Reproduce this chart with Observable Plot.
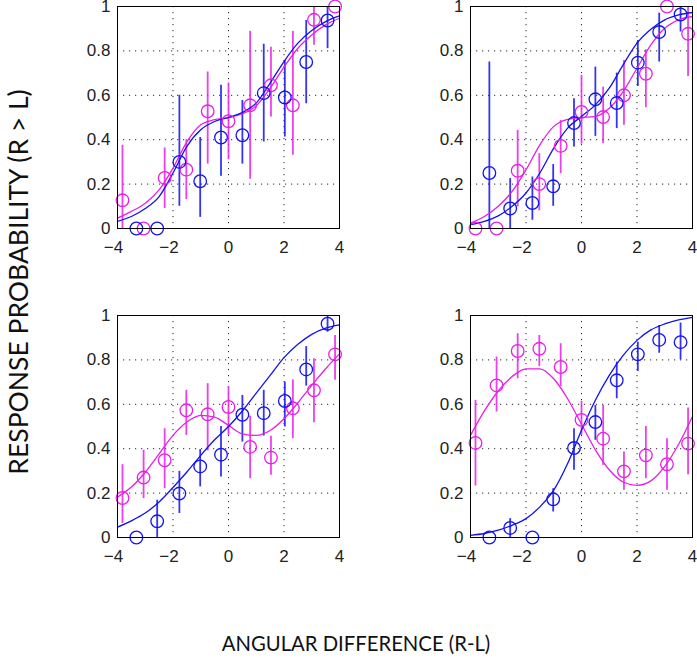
<!DOCTYPE html>
<html>
<head>
<meta charset="utf-8">
<script src="https://cdn.jsdelivr.net/npm/d3@7"></script>
<script src="https://cdn.jsdelivr.net/npm/@observablehq/plot@0.6"></script>
<style>
  html, body { margin: 0; padding: 0; background: #fff; overflow: hidden; }
  #root { position: relative; width: 697px; height: 658px; }
  .panel { position: absolute; }
  #ylab {
    position: absolute; left: 18px; top: 282px;
    transform: translate(-50%, -50%) rotate(-90deg);
    white-space: nowrap; font-family: Lato, "Open Sans", sans-serif; font-size: 26.5px; color: #111;
  }
  #xlab {
    position: absolute; left: 356px; top: 643px;
    transform: translate(-50%, -50%);
    white-space: nowrap; font-family: Lato, "Open Sans", sans-serif; font-size: 20.3px; color: #111;
  }
</style>
</head>
<body>
<div id="root">
  <div id="ylab">RESPONSE PROBABILITY (R &gt; L)</div>
  <div id="xlab">ANGULAR DIFFERENCE (R-L)</div>
</div>
<script>
// ---- axis ticks ----
const xTicks = [-4, -2, 0, 2, 4];
const yTicks = [0, 0.2, 0.4, 0.6, 0.8, 1];

// ---- stimulus positions (shared by all panels) ----
const blueX    = [-3.32, -2.57, -1.77, -1.02, -0.27, 0.50, 1.27, 2.03, 2.80, 3.57];
const magentaX = [-3.82, -3.06, -2.30, -1.52, -0.75, 0.00, 0.78, 1.53, 2.32, 3.08, 3.84];
const curveX   = [-4, -3.5, -3, -2.5, -2, -1.5, -1, -0.5, 0, 0.5, 1, 1.5, 2, 2.5, 3, 3.5, 4];

// ---- panel 1 (top left) ----
const p1BlueY  = [0, 0, 0.30, 0.213, 0.41, 0.42, 0.61, 0.59, 0.75, 0.937];
const p1BlueLo = [0, 0, 0.10, 0.05, 0.235, 0.29, 0.39, 0.412, 0.562, 0.81];
const p1BlueHi = [0, 0, 0.60, 0.41, 0.645, 0.577, 0.83, 0.757, 0.937, 1.0];
const p1MagY   = [0.127, 0, 0.228, 0.265, 0.528, 0.483, 0.555, 0.645, 0.555, 0.94, 1.0];
const p1MagLo  = [0, 0, 0.09, 0.13, 0.29, 0.31, 0.222, 0.502, 0.33, 0.825, 1.0];
const p1MagHi  = [0.375, 0, 0.363, 0.40, 0.705, 0.655, 0.888, 0.817, 0.888, 1.0, 1.0];
const p1BlueFit = [0.032, 0.054, 0.09, 0.144, 0.25, 0.37, 0.445, 0.482, 0.50, 0.523, 0.565, 0.655, 0.752, 0.835, 0.892, 0.932, 0.958];
const p1MagFit  = [0.047, 0.077, 0.114, 0.174, 0.272, 0.39, 0.467, 0.49, 0.50, 0.517, 0.553, 0.632, 0.727, 0.812, 0.872, 0.917, 0.947];

// ---- panel 2 (top right) ----
const p2BlueY  = [0.25, 0.09, 0.115, 0.19, 0.475, 0.582, 0.565, 0.747, 0.885, 0.964];
const p2BlueLo = [0, 0, 0.037, 0.10, 0.367, 0.415, 0.45, 0.64, 0.75, 0.885];
const p2BlueHi = [0.75, 0.225, 0.232, 0.288, 0.585, 0.727, 0.70, 0.847, 0.97, 1.0];
const p2MagY   = [0, 0, 0.26, 0.20, 0.372, 0.525, 0.502, 0.60, 0.697, 1.0, 0.877];
const p2MagLo  = [0, 0, 0.097, 0.08, 0.247, 0.38, 0.382, 0.465, 0.544, 1.0, 0.685];
const p2MagHi  = [0, 0, 0.442, 0.337, 0.487, 0.69, 0.637, 0.757, 0.805, 1.0, 1.0];
const p2BlueFit = [0.017, 0.032, 0.057, 0.10, 0.16, 0.25, 0.362, 0.452, 0.505, 0.557, 0.632, 0.737, 0.835, 0.898, 0.94, 0.962, 0.973];
const p2MagFit  = [0.024, 0.054, 0.10, 0.167, 0.264, 0.377, 0.46, 0.492, 0.50, 0.505, 0.542, 0.617, 0.722, 0.827, 0.902, 0.94, 0.955];

// ---- panel 3 (bottom left) ----
const p3BlueY  = [0, 0.073, 0.198, 0.32, 0.373, 0.553, 0.56, 0.615, 0.757, 0.963];
const p3BlueLo = [0, 0, 0.108, 0.228, 0.273, 0.43, 0.457, 0.498, 0.682, 0.925];
const p3BlueHi = [0, 0.168, 0.298, 0.396, 0.50, 0.64, 0.663, 0.70, 0.86, 1.0];
const p3MagY   = [0.178, 0.27, 0.348, 0.573, 0.555, 0.588, 0.408, 0.36, 0.582, 0.663, 0.825];
const p3MagLo  = [0.063, 0.175, 0.22, 0.46, 0.39, 0.46, 0.265, 0.28, 0.445, 0.517, 0.708];
const p3MagHi  = [0.328, 0.393, 0.49, 0.663, 0.693, 0.68, 0.546, 0.456, 0.71, 0.805, 0.91];
const p3BlueFit = [0.047, 0.075, 0.11, 0.16, 0.225, 0.295, 0.37, 0.44, 0.50, 0.57, 0.65, 0.73, 0.81, 0.87, 0.915, 0.943, 0.958];
const p3MagFit  = [0.182, 0.227, 0.294, 0.377, 0.46, 0.52, 0.55, 0.542, 0.505, 0.467, 0.46, 0.482, 0.535, 0.607, 0.685, 0.76, 0.827];

// ---- panel 4 (bottom right) ----
const p4BlueY  = [0, 0.043, 0, 0.172, 0.403, 0.52, 0.708, 0.825, 0.89, 0.88];
const p4BlueLo = [0, 0, 0, 0.115, 0.303, 0.438, 0.625, 0.748, 0.83, 0.80];
const p4BlueHi = [0, 0.085, 0, 0.22, 0.49, 0.595, 0.79, 0.88, 0.955, 0.966];
const p4MagY   = [0.426, 0.685, 0.84, 0.85, 0.768, 0.53, 0.445, 0.298, 0.37, 0.33, 0.423];
const p4MagLo  = [0.232, 0.565, 0.715, 0.77, 0.68, 0.46, 0.325, 0.213, 0.265, 0.213, 0.283];
const p4MagHi  = [0.618, 0.813, 0.918, 0.91, 0.873, 0.613, 0.595, 0.385, 0.50, 0.445, 0.583];
const p4BlueFit = [0.01, 0.018, 0.033, 0.055, 0.085, 0.138, 0.213, 0.333, 0.483, 0.618, 0.73, 0.82, 0.888, 0.935, 0.962, 0.98, 0.992];
const p4MagFit  = [0.46, 0.57, 0.66, 0.725, 0.76, 0.76, 0.715, 0.625, 0.51, 0.395, 0.305, 0.25, 0.235, 0.255, 0.32, 0.42, 0.545];

const BLUE = "#1212ee";
const MAGENTA = "#e81ee8";

const panels = [
  {left: 40,  top: 0,   b: [p1BlueY, p1BlueLo, p1BlueHi], m: [p1MagY, p1MagLo, p1MagHi], bf: p1BlueFit, mf: p1MagFit},
  {left: 393, top: 0,   b: [p2BlueY, p2BlueLo, p2BlueHi], m: [p2MagY, p2MagLo, p2MagHi], bf: p2BlueFit, mf: p2MagFit},
  {left: 40,  top: 309, b: [p3BlueY, p3BlueLo, p3BlueHi], m: [p3MagY, p3MagLo, p3MagHi], bf: p3BlueFit, mf: p3MagFit},
  {left: 393, top: 309, b: [p4BlueY, p4BlueLo, p4BlueHi], m: [p4MagY, p4MagLo, p4MagHi], bf: p4BlueFit, mf: p4MagFit}
];

function pts(xs, [ys, lo, hi]) {
  return xs.map((x, i) => ({x, y: ys[i], lo: lo[i], hi: hi[i]}));
}
function fit(ys) {
  return curveX.map((x, i) => ({x, y: ys[i]}));
}
const fmtX = d => d < 0 ? "\u2212" + (-d) : String(d);

const root = document.getElementById("root");
for (const p of panels) {
  const blue = pts(blueX, p.b);
  const mag = pts(magentaX, p.m);
  const chart = Plot.plot({
    width: 304, height: 258,
    marginLeft: 77, marginRight: 5, marginTop: 6, marginBottom: 30,
    style: {fontFamily: "'Liberation Sans', Arial, sans-serif", fontSize: "17px", color: "#222", background: "transparent", overflow: "visible"},
    x: {domain: [-4, 4]},
    y: {domain: [0, 1]},
    marks: [
      Plot.gridX(xTicks.slice(1, -1), {stroke: "#000", strokeOpacity: 0.85, strokeDasharray: "1.2,4.8"}),
      Plot.gridY(yTicks.slice(1, -1), {stroke: "#000", strokeOpacity: 0.85, strokeDasharray: "1.2,4.8"}),
      Plot.axisX(xTicks.filter(d => d < 0), {tickSize: 0, tickPadding: 12, fontSize: 17, label: null, fill: "#222", dx: -4, tickFormat: fmtX}),
      Plot.axisX(xTicks.filter(d => d >= 0), {tickSize: 0, tickPadding: 12, fontSize: 17, label: null, fill: "#222", tickFormat: fmtX}),
      Plot.axisY(yTicks, {tickSize: 0, tickPadding: 7, fontSize: 17, label: null, fill: "#222",
        tickFormat: d => String(d)}),
      Plot.ruleX(mag.filter(d => d.hi > d.lo), {x: "x", y1: "lo", y2: "hi", stroke: MAGENTA, strokeWidth: 1.8, strokeOpacity: 0.85}),
      Plot.ruleX(blue.filter(d => d.hi > d.lo), {x: "x", y1: "lo", y2: "hi", stroke: BLUE, strokeWidth: 1.8, strokeOpacity: 0.85}),
      Plot.line(fit(p.mf), {x: "x", y: "y", stroke: MAGENTA, strokeWidth: 1.3, curve: "monotone-x"}),
      Plot.line(fit(p.bf), {x: "x", y: "y", stroke: BLUE, strokeWidth: 1.3, curve: "monotone-x"}),
      Plot.dot(mag, {x: "x", y: "y", r: 6.3, stroke: MAGENTA, strokeWidth: 1.3, fill: "none"}),
      Plot.dot(blue, {x: "x", y: "y", r: 6.3, stroke: BLUE, strokeWidth: 1.3, fill: "none"}),
      Plot.frame({stroke: "#000", strokeWidth: 1})
    ]
  });
  chart.classList.add("panel");
  chart.style.left = p.left + "px";
  chart.style.top = p.top + "px";
  root.appendChild(chart);
}
</script>
</body>
</html>
